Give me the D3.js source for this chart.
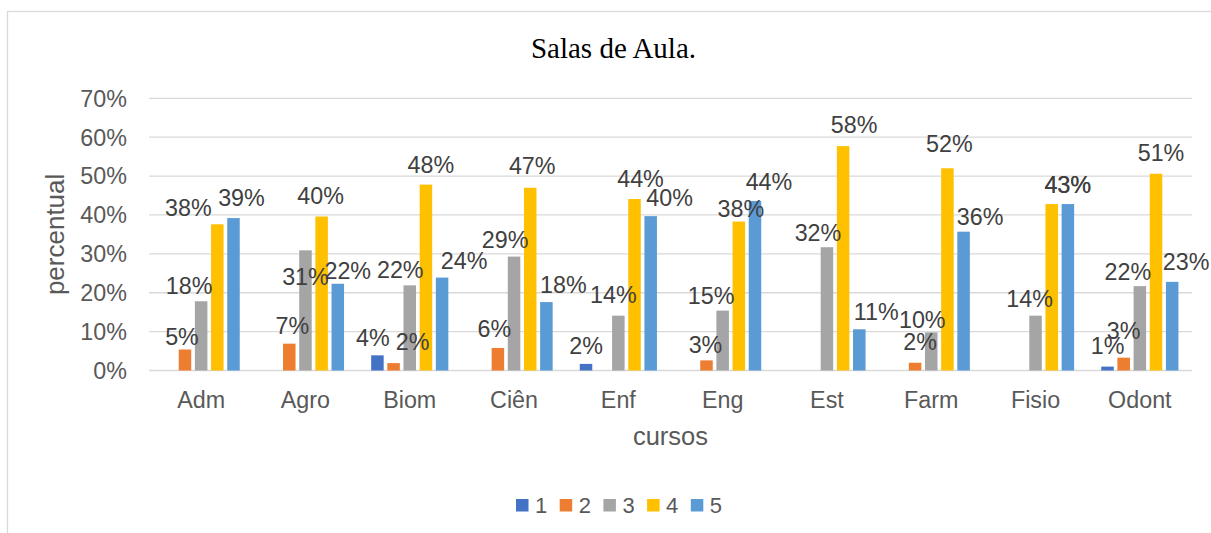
<!DOCTYPE html>
<html>
<head>
<meta charset="utf-8">
<script src="https://cdn.jsdelivr.net/npm/d3@7"></script>
<style>
  body { margin: 0; background: #fff; }
  text { font-family: "Liberation Sans", Arial, sans-serif; }
</style>
</head>
<body>
<script>
// chart data
var cursos = ["Adm", "Agro", "Biom", "Ciên", "Enf", "Eng", "Est", "Farm", "Fisio", "Odont"];
var seriesNames = ["1", "2", "3", "4", "5"];
var s1 = [0, 0, 0.039, 0, 0.017, 0, 0, 0, 0, 0.010];
var s2 = [0.054, 0.069, 0.019, 0.058, 0, 0.026, 0, 0.020, 0, 0.033];
var s3 = [0.178, 0.309, 0.219, 0.293, 0.141, 0.154, 0.317, 0.098, 0.141, 0.217];
var s4 = [0.376, 0.396, 0.478, 0.470, 0.441, 0.383, 0.577, 0.520, 0.428, 0.506];
var s5 = [0.392, 0.223, 0.239, 0.176, 0.397, 0.436, 0.106, 0.357, 0.428, 0.228];
var yTicks = [0, 0.1, 0.2, 0.3, 0.4, 0.5, 0.6, 0.7];

var colours = ["#4472C4", "#ED7D31", "#A5A5A5", "#FFC000", "#5B9BD5"];

// where the data labels sit relative to the top centre of their bar [dx, dy]
var labelNudge = [
  [null, [-3, -5], [-12, -7], [-29, -8], [8, -12]],
  [null, [3, -10], [0, 35], [-1, -13], [10, -5]],
  [[-4.5, -9], [19, -13], [-9.5, -7], [5, -12], [22, -9]],
  [null, [-3.5, -11], [-9, -9], [2, -14], [17, -9]],
  [[0, -10], null, [-5, -13], [6, -12], [19, -10]],
  [null, [-1, -7], [-11.5, -7], [2, -5], [14, -11]],
  [null, null, [-9, -6], [11, -13], [17, -9]],
  [null, [5, -13], [-9, -4], [2, -16], [16.5, -7]],
  [null, null, [-6, -9], [16, -11], [0, -11]],
  [[0, -13], [0, -19], [-12, -6], [5, -13], [14, -12]]
];

var allSeries = [s1, s2, s3, s4, s5];

var W = 1211, H = 533;
var plotL = 149, plotR = 1192, plotT = 98.3, plotB = 370.5;

var svg = d3.select("body").append("svg")
    .attr("width", W)
    .attr("height", H);

// chart border (only top and left show in the crop)
svg.append("rect")
    .attr("x", 7.5).attr("y", 11.5)
    .attr("width", W + 20).attr("height", H + 20)
    .style("fill", "#fff")
    .style("stroke", "#D9D9D9")
    .style("stroke-width", 1.3);

var x0 = d3.scaleBand()
    .domain(cursos)
    .range([plotL, plotR])
    .paddingInner(0.26)
    .paddingOuter(0.13);

var x1 = d3.scaleBand()
    .domain(seriesNames)
    .range([0, x0.bandwidth()])
    .paddingInner(0.226);

var y = d3.scaleLinear()
    .domain([0, 0.7])
    .range([plotB, plotT]);

var fmt = d3.format(".0%");

// gridlines
svg.append("g").selectAll("line")
    .data(yTicks)
    .enter().append("line")
    .attr("x1", plotL).attr("x2", plotR)
    .attr("y1", function(d) { return y(d); })
    .attr("y2", function(d) { return y(d); })
    .style("stroke", "#D9D9D9")
    .style("stroke-width", 1.3);

// y tick labels
svg.append("g").selectAll("text")
    .data(yTicks)
    .enter().append("text")
    .attr("x", 127)
    .attr("y", function(d) { return y(d); })
    .attr("dy", "0.36em")
    .attr("text-anchor", "end")
    .style("font-size", "23.3px")
    .style("fill", "#595959")
    .text(function(d) { return fmt(d); });

// category labels
svg.append("g").selectAll("text")
    .data(cursos)
    .enter().append("text")
    .attr("x", function(d) { return x0(d) + x0.bandwidth() / 2; })
    .attr("y", 408)
    .attr("text-anchor", "middle")
    .style("font-size", "23.3px")
    .style("fill", "#595959")
    .text(function(d) { return d; });

// flatten to one record per bar
var bars = [];
cursos.forEach(function(c, i) {
  seriesNames.forEach(function(s, j) {
    bars.push({ cat: c, ci: i, ser: s, si: j, v: allSeries[j][i] });
  });
});

svg.append("g").selectAll("rect")
    .data(bars)
    .enter().append("rect")
    .attr("x", function(d) { return x0(d.cat) + x1(d.ser); })
    .attr("y", function(d) { return y(d.v); })
    .attr("width", x1.bandwidth())
    .attr("height", function(d) { return y(0) - y(d.v); })
    .style("fill", function(d) { return colours[d.si]; });

// data labels
svg.append("g").selectAll("text")
    .data(bars.filter(function(d) { return d.v > 0; }))
    .enter().append("text")
    .attr("x", function(d) {
      var n = labelNudge[d.ci][d.si] || [0, -8];
      return x0(d.cat) + x1(d.ser) + x1.bandwidth() / 2 + n[0];
    })
    .attr("y", function(d) {
      var n = labelNudge[d.ci][d.si] || [0, -8];
      return y(d.v) + n[1];
    })
    .attr("text-anchor", "middle")
    .style("font-size", "23.3px")
    .style("fill", "#404040")
    .text(function(d) { return fmt(d.v); });

// title
svg.append("text")
    .attr("x", 613.5).attr("y", 58)
    .attr("text-anchor", "middle")
    .style("font-family", "'Liberation Serif', 'Times New Roman', serif")
    .style("font-size", "29px")
    .style("fill", "#000")
    .text("Salas de Aula.");

// axis titles
svg.append("text")
    .attr("transform", "translate(64," + ((plotT + plotB) / 2) + ") rotate(-90)")
    .attr("text-anchor", "middle")
    .style("font-size", "26px")
    .style("fill", "#595959")
    .text("percentual");

svg.append("text")
    .attr("x", (plotL + plotR) / 2).attr("y", 445)
    .attr("text-anchor", "middle")
    .style("font-size", "25.5px")
    .style("fill", "#595959")
    .text("cursos");

// legend
var legend = svg.append("g").selectAll("g")
    .data(seriesNames)
    .enter().append("g")
    .attr("transform", function(d, i) { return "translate(" + (516 + i * 43.7) + ",499)"; });

legend.append("rect")
    .attr("width", 12.5).attr("height", 12.5)
    .style("fill", function(d, i) { return colours[i]; });

legend.append("text")
    .attr("x", 19).attr("y", 14.3)
    .style("font-size", "22px")
    .style("fill", "#595959")
    .text(function(d) { return d; });
</script>
</body>
</html>
